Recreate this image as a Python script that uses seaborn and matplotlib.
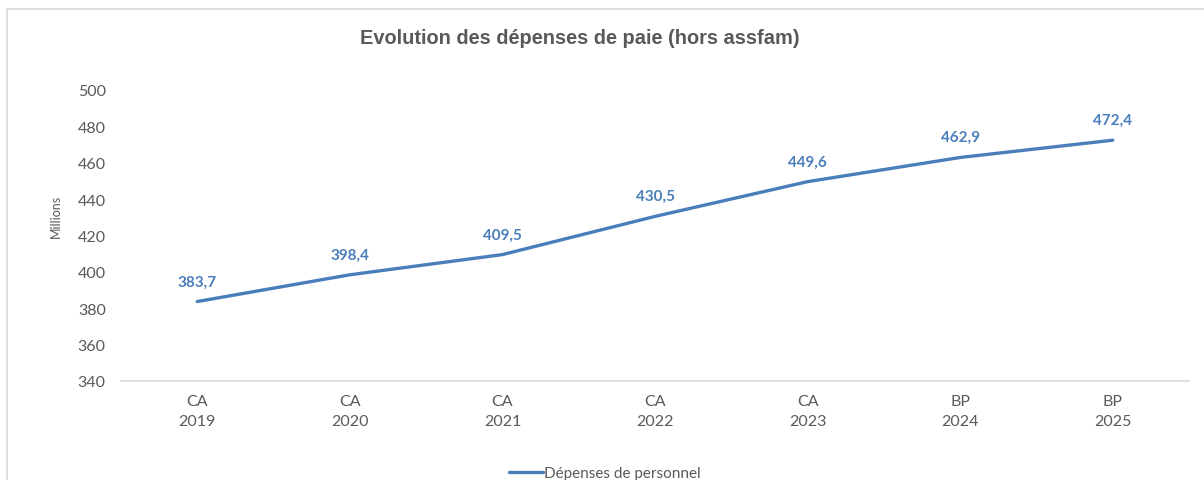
import matplotlib
matplotlib.use("Agg")
import matplotlib.pyplot as plt
import seaborn as sns
import pandas as pd
from matplotlib.patches import Rectangle
from matplotlib.lines import Line2D

categories = ["CA\n2019", "CA\n2020", "CA\n2021", "CA\n2022", "CA\n2023", "BP\n2024", "BP\n2025"]
values = [383.7, 398.4, 409.5, 430.5, 449.6, 462.9, 472.4]
value_labels = ["383,7", "398,4", "409,5", "430,5", "449,6", "462,9", "472,4"]
yticks = [340, 360, 380, 400, 420, 440, 460, 480, 500]
series_name = "Dépenses de personnel"

sns.set_theme(style="white")
plt.rcParams['font.family'] = ['Lato', 'DejaVu Sans']

df = pd.DataFrame({"pos": list(range(len(categories))), "val": values, "serie": series_name})

fig = plt.figure(figsize=(12.04, 4.81), dpi=100)
ax = fig.add_axes([121/1204, 1 - 382/481, (1189 - 121)/1204, (382 - 91)/481])

line_color = "#4A7EBB"
sns.lineplot(data=df, x="pos", y="val", hue="serie", palette=[line_color], ax=ax,
             linewidth=2.4, legend=False)

for x, y, lab in zip(df["pos"], df["val"], value_labels):
    ax.annotate(lab, (x, y), xytext=(0, 9.5), textcoords="offset points",
                ha="center", va="bottom", fontsize=11, fontweight="bold", color="#4A7EBB")

ax.set_xlim(-0.5, len(categories) - 0.5)
ax.set_ylim(340, 500)
ax.set_yticks(yticks)
ax.set_yticklabels([str(t) for t in yticks])
ax.set_xticks(range(len(categories)))
ax.set_xticklabels(categories, linespacing=1.55)
ax.tick_params(axis="both", colors="#595959", labelsize=11.5, length=0)
ax.tick_params(axis="y", pad=11)
ax.tick_params(axis="x", pad=9)
for s in ["top", "right", "left"]:
    ax.spines[s].set_visible(False)
ax.spines["bottom"].set_color("#D9D9D9")
ax.spines["bottom"].set_linewidth(1.2)
ax.set_xlabel("")
ax.set_ylabel("Millions", fontsize=9, color="#595959")
ax.yaxis.set_label_coords((62 - 121)/1068, 0.57)
ax.grid(False)

fig.text(580/1204, 1 - 39/481, "Evolution des dépenses de paie (hors assfam)",
         ha="center", va="center", fontsize=14.4, fontweight="bold", color="#595959",
         family=["Liberation Sans", "DejaVu Sans"])

handle = Line2D([0], [0], color=line_color, linewidth=2.4)
fig.legend([handle], [series_name], loc="center", bbox_to_anchor=(605/1204, 1 - 474/481),
           frameon=False, fontsize=11, labelcolor="#595959", handlelength=2.2,
           handletextpad=0.1)

fig.patches.append(Rectangle((7/1204, -0.1), 1.2, 1 - 10/481 + 0.1, transform=fig.transFigure,
                             fill=False, edgecolor="#D9D9D9", linewidth=1.2))

fig.savefig("out.png", dpi=100)
